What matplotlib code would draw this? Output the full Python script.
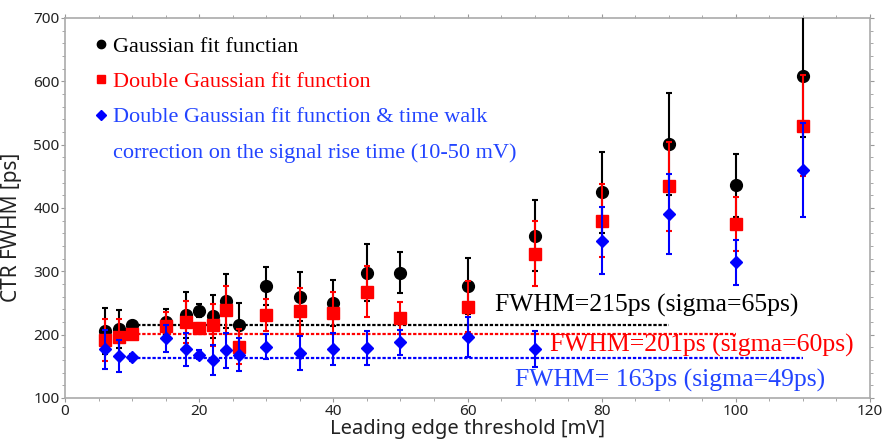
import matplotlib
matplotlib.use("Agg")
import matplotlib.pyplot as plt
from matplotlib.lines import Line2D
from matplotlib.ticker import MultipleLocator

# threshold values [mV]
thr = [6, 8, 10, 15, 18, 20, 22, 24, 26, 30, 35, 40, 45, 50, 60, 70, 80, 90, 100, 110]

# Gaussian fit
gaus = [206, 209, 216, 220, 231, 238, 229, 253, 216, 277, 260, 250, 298, 298, 277, 356, 425, 501, 436, 609]
gaus_err = [36, 30, 6, 21, 36, 10, 34, 42, 34, 30, 39, 36, 45, 32, 44, 56, 64, 80, 50, 97]

# Double Gaussian fit
dgaus = [192, 197, 201, 214, 220, 210, 215, 239, 181, 231, 237, 234, 268, 226, 244, 328, 380, 434, 375, 530]
dgaus_err = [33, 27, 6, 22, 33, 8, 33, 38, 28, 25, 36, 33, 40, 25, 40, 51, 58, 70, 43, 80]

# Double Gaussian + time walk correction
dgtw = [177, 166, 164, 194, 177, 168, 160, 175, 168, 181, 171, 177, 179, 188, 196, 177, 348, 390, 314, 460]
dgtw_err = [31, 25, 6, 21, 26, 7, 24, 28, 26, 20, 27, 25, 27, 20, 32, 28, 53, 63, 36, 74]

# fitted FWHM levels: (value, x start, x end)
lvl_vals = [215, 201, 163]
lvl_start = [10, 10, 10]
lvl_end = [90, 100, 110]
lvl_text = ["FWHM=215ps (sigma=65ps)", "FWHM=201ps (sigma=60ps)", "FWHM= 163ps (sigma=49ps)"]
lvl_text_x = [64.1, 72.3, 67.1]
lvl_text_y = [246, 183, 128]

colors = ["black", "#ff0000", "#0000ff"]
text_colors = ["black", "#ff0000", "#2244ff"]

serif = ["Liberation Serif", "DejaVu Serif"]
sans = ["Noto Sans", "DejaVu Sans"]

fig = plt.figure(figsize=(8.82, 4.43), dpi=100)
ax = fig.add_axes([0.0737, 0.1016, 0.9127, 0.8578])

ax.errorbar(thr, gaus, yerr=gaus_err, fmt="o", color=colors[0], ms=8.5,
            elinewidth=1.5, capsize=2.5, capthick=1.5, zorder=3)
ax.errorbar(thr, dgaus, yerr=dgaus_err, fmt="s", color=colors[1], ms=8,
            elinewidth=1.5, capsize=2.5, capthick=1.5, zorder=4)
ax.errorbar(thr, dgtw, yerr=dgtw_err, fmt="D", color=colors[2], ms=6.5,
            elinewidth=1.5, capsize=2.5, capthick=1.5, zorder=5)

for i in range(3):
    ax.hlines(lvl_vals[i], lvl_start[i], lvl_end[i], colors=colors[i],
              linestyles=(0, (1.5, 0.8)), linewidth=1.6, zorder=2)
    ax.text(lvl_text_x[i], lvl_text_y[i], lvl_text[i], color=text_colors[i],
            family=serif, fontsize=18.5, va="center", ha="left", zorder=6)

ax.set_xlim(0, 120)
ax.set_ylim(100, 700)
ax.xaxis.set_major_locator(MultipleLocator(20))
ax.xaxis.set_minor_locator(MultipleLocator(5))
ax.yaxis.set_major_locator(MultipleLocator(100))
ax.yaxis.set_minor_locator(MultipleLocator(20))
ax.tick_params(which="both", direction="out", color="#999999", top=True, right=True,
               labeltop=False, labelright=False)
ax.tick_params(which="major", length=3, labelsize=11, labelcolor="#222222", pad=1)
ax.tick_params(which="minor", length=2)
for lab in ax.get_xticklabels() + ax.get_yticklabels():
    lab.set_family(sans)
for sp in ax.spines.values():
    sp.set_color("#aaaaaa")
    sp.set_linewidth(1.2)

ax.set_xlabel("Leading edge threshold [mV]", family=sans, fontsize=14.5,
              color="#222222", labelpad=0)
ax.set_ylabel("CTR FWHM [ps]", family=sans, fontsize=15, color="#222222")
ax.yaxis.set_label_coords(-0.053, 0.45)

handles = [
    Line2D([], [], marker="o", color=colors[0], linestyle="none", ms=6),
    Line2D([], [], marker="s", color=colors[1], linestyle="none", ms=6),
    Line2D([], [], marker="D", color=colors[2], linestyle="none", ms=5),
    Line2D([], [], linestyle="none"),
]
labels = ["Gaussian fit functian", "Double Gaussian fit function",
          "Double Gaussian fit function & time walk",
          "correction on the signal rise time (10-50 mV)"]
leg = ax.legend(handles, labels, loc="upper left", bbox_to_anchor=(0.025, 0.975),
                frameon=False, handlelength=0.6, handletextpad=0.25, labelspacing=0.66,
                borderaxespad=0, prop={"family": serif, "size": 16},
                labelcolor=[text_colors[0], text_colors[1], text_colors[2], text_colors[2]])

fig.savefig("out.png", dpi=100)
